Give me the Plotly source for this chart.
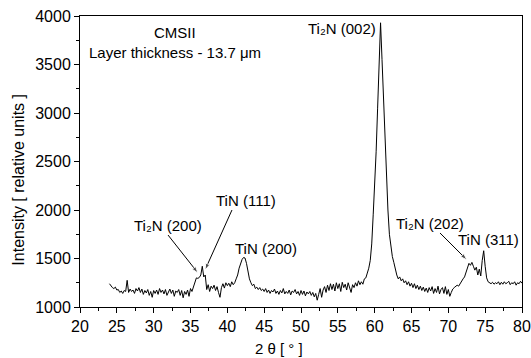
import numpy as np
import plotly.graph_objects as go

# 2-theta grid (degrees), instrument step 0.2
two_theta = [round(24.0 + 0.2 * i, 1) for i in range(281)]

# Intensity, one row per degree (24.0-25.0 first, then 5 pts per degree)
intensity = [
    1240, 1215, 1200, 1190, 1205, 1175,   # 24.0-25.0
    1180, 1150, 1165, 1140, 1170,         # 25.2-26.0
    1160, 1275, 1150, 1185, 1160,         # 26.2-27.0
    1175, 1140, 1190, 1165, 1200,         # 27.2-28.0
    1150, 1185, 1130, 1170, 1145,         # 28.2-29.0
    1180, 1120, 1160, 1100, 1170,         # 29.2-30.0
    1140, 1175, 1130, 1190, 1150,         # 30.2-31.0
    1175, 1135, 1180, 1120, 1160,         # 31.2-32.0
    1185, 1140, 1175, 1110, 1165,         # 32.2-33.0
    1150, 1180, 1120, 1170, 1095,         # 33.2-34.0
    1160, 1130, 1175, 1110, 1190,         # 34.2-35.0
    1160, 1210, 1250, 1300, 1295,         # 35.2-36.0
    1305, 1330, 1420, 1310, 1330,         # 36.2-37.0
    1180, 1230, 1160, 1215, 1190,         # 37.2-38.0
    1225, 1170, 1210, 1150, 1100,         # 38.2-39.0
    1200, 1240, 1195, 1250, 1220,         # 39.2-40.0
    1245, 1210, 1260, 1230, 1250,         # 40.2-41.0
    1290, 1330, 1400, 1460, 1490,         # 41.2-42.0
    1510, 1505, 1450, 1360, 1290,         # 42.2-43.0
    1250, 1220, 1235, 1190, 1205,         # 43.2-44.0
    1180, 1200, 1170, 1185, 1160,         # 44.2-45.0
    1190, 1150, 1175, 1140, 1170,         # 45.2-46.0
    1155, 1185, 1140, 1165, 1130,         # 46.2-47.0
    1170, 1145, 1190, 1135, 1160,         # 47.2-48.0
    1140, 1175, 1125, 1165, 1150,         # 48.2-49.0
    1180, 1135, 1160, 1120, 1170,         # 49.2-50.0
    1130, 1165, 1115, 1155, 1135,         # 50.2-51.0
    1160, 1120, 1150, 1105, 1140,         # 51.2-52.0
    1070, 1130, 1190, 1100, 1175,         # 52.2-53.0
    1210, 1150, 1225, 1170, 1240,         # 53.2-54.0
    1180, 1235, 1165, 1250, 1190,         # 54.2-55.0
    1240, 1160, 1255, 1200, 1235,         # 55.2-56.0
    1175, 1250, 1210, 1150, 1230,         # 56.2-57.0
    1200, 1250, 1215, 1270, 1230,         # 57.2-58.0
    1260, 1235, 1290, 1300, 1350,         # 58.2-59.0
    1400, 1480, 1650, 1950, 2250,         # 59.2-60.0
    2600, 3050, 3500, 3930, 3550,         # 60.2-61.0
    3150, 2700, 2350, 2000, 1750,         # 61.2-62.0
    1600, 1520, 1460, 1390, 1330,         # 62.2-63.0
    1290, 1310, 1270, 1290, 1250,         # 63.2-64.0
    1270, 1230, 1260, 1215, 1245,         # 64.2-65.0
    1200, 1240, 1190, 1225, 1180,         # 65.2-66.0
    1215, 1170, 1205, 1160, 1195,         # 66.2-67.0
    1150, 1200, 1165, 1210, 1140,         # 67.2-68.0
    1190, 1150, 1215, 1135, 1180,         # 68.2-69.0
    1200, 1140, 1210, 1130, 1180,         # 69.2-70.0
    1110, 1150, 1185, 1200, 1210,         # 70.2-71.0
    1225, 1215, 1245, 1260, 1290,         # 71.2-72.0
    1310, 1350, 1400, 1450, 1430,         # 72.2-73.0
    1460, 1420, 1380, 1410, 1330,         # 73.2-74.0
    1390, 1320, 1480, 1580, 1420,         # 74.2-75.0
    1300, 1260, 1250, 1240, 1255,         # 75.2-76.0
    1235, 1250, 1240, 1260, 1230,         # 76.2-77.0
    1255, 1235, 1260, 1240, 1250,         # 77.2-78.0
    1265, 1230, 1250, 1240, 1260,         # 78.2-79.0
    1225, 1250, 1240, 1265, 1245,         # 79.2-80.0
]

# Peak labels: text, x (deg), y (intensity), anchor
label_texts = ["Ti₂N (002)", "Ti₂N (200)", "TiN (111)", "TiN (200)",
               "Ti₂N (202)", "TiN (311)"]
label_x = [60.45, 31.9, 42.5, 45.25, 67.5, 75.5]
label_y = [3876, 1845, 2103, 1608, 1866, 1691]
label_anchor = ["right", "center", "center", "center", "center", "center"]

# Arrows: tail (x, y) -> head (x, y)
arrow_tail_x = [31.95, 40.63, 68.87]
arrow_tail_y = [1742, 2000, 1763]
arrow_head_x = [36.02, 36.97, 72.53]
arrow_head_y = [1350, 1381, 1485]

x_ticks = list(range(20, 81, 5))
y_ticks = list(range(1000, 4001, 500))

FONT = "Liberation Sans, Arial, sans-serif"

fig = go.Figure()
fig.add_trace(go.Scatter(x=two_theta, y=intensity, mode="lines",
                         line=dict(color="black", width=1), showlegend=False,
                         hoverinfo="skip"))

# arrows as line segments with an arrow marker at the head
for tx, ty, hx, hy in zip(arrow_tail_x, arrow_tail_y, arrow_head_x, arrow_head_y):
    fig.add_trace(go.Scatter(x=[tx, hx], y=[ty, hy], mode="lines+markers",
                             line=dict(color="black", width=1),
                             marker=dict(symbol="arrow", angleref="previous",
                                         size=[0, 7], color="black"),
                             showlegend=False, hoverinfo="skip"))

annotations = []
for t, x, y, a in zip(label_texts, label_x, label_y, label_anchor):
    annotations.append(dict(text=t, x=x, y=y, xref="x", yref="y", showarrow=False,
                            xanchor=a, yanchor="middle",
                            font=dict(family=FONT, size=15, color="black")))
annotations.append(dict(text="CMSII", x=32.9, y=3825, xref="x", yref="y", showarrow=False,
                        xanchor="center", yanchor="middle",
                        font=dict(family=FONT, size=15, color="black")))
annotations.append(dict(text="Layer thickness - 13.7 μm", x=32.9, y=3619, xref="x", yref="y",
                        showarrow=False, xanchor="center", yanchor="middle",
                        font=dict(family=FONT, size=15, color="black")))
annotations.append(dict(text="Intensity [ relative units ]", x=-0.14, y=0.438,
                        xref="paper", yref="paper", textangle=-90, showarrow=False,
                        xanchor="center", yanchor="middle",
                        font=dict(family=FONT, size=16, color="black")))
annotations.append(dict(text="2 θ [ ° ]", x=47.0, y=-0.141, xref="x", yref="paper",
                        showarrow=False, xanchor="center", yanchor="middle",
                        font=dict(family=FONT, size=15, color="black")))

axis_common = dict(showgrid=False, zeroline=False, showline=True, linecolor="black",
                   linewidth=1, mirror=True, ticks="outside", ticklen=5, tickwidth=1,
                   tickcolor="black", automargin=False,
                   tickfont=dict(family=FONT, size=16, color="black"))

fig.update_layout(
    width=531, height=358,
    margin=dict(l=80, r=9, t=16, b=51),
    paper_bgcolor="white", plot_bgcolor="white",
    xaxis=dict(range=[20, 80], tickvals=x_ticks,
               minor=dict(dtick=2.5, tick0=20, ticks="outside", ticklen=3, tickcolor="black"),
               **axis_common),
    yaxis=dict(range=[1000, 4000], tickvals=y_ticks,
               minor=dict(dtick=250, tick0=1000, ticks="outside", ticklen=3, tickcolor="black"),
               **axis_common),
    annotations=annotations,
)

fig.write_html("out.html")
